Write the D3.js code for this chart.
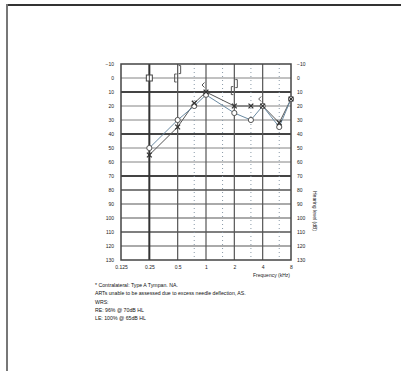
<!DOCTYPE html>
<html>
<head>
<meta charset="utf-8">
<script src="https://cdn.jsdelivr.net/npm/d3@7"></script>
<style>
  html, body { margin: 0; padding: 0; background: #fff; }
  svg { display: block; font-family: "Liberation Sans", Arial, sans-serif; }
</style>
</head>
<body>
<svg id="chart" width="401" height="371"></svg>
<script>
// Audiogram values (dB HL) by frequency (kHz)
const freqTicks = [0.125, 0.25, 0.5, 1, 2, 4, 8];
const freqTickLabels = ["0.125", "0.25", "0.5", "1", "2", "4", "8"];
const interOctave = [0.75, 1.5, 3, 6];
const levelTicks = [-10, 0, 10, 20, 30, 40, 50, 60, 70, 80, 90, 100, 110, 120, 130];

const airFreqs = [0.25, 0.5, 0.75, 1, 2, 3, 4, 6, 8];
const rightAir = [50, 30, 20, 12, 25, 30, 20, 35, 15];
const leftAir  = [55, 35, 18, 10, 20, 20, 20, 32, 15];

// Bone conduction symbols
const boneFreqs   = [0.5, 0.5, 1, 2, 2, 4];
const boneLevels  = [0, -6, 5, 4, 9, 15];
const boneSymbols = ["[", "]", "<", "]", "[", "<"];

// Sound-field / square marker
const squareFreqs  = [0.25];
const squareLevels = [0];

const notes = [
  "* Contralateral: Type A Tympan. NA.",
  "ARTs unable to be assessed due to excess needle deflection, AS.",
  "WRS:",
  "RE: 96% @ 70dB HL",
  "LE: 100% @ 65dB HL"
];

const svg = d3.select("#chart");

// Page frame
svg.append("line").attr("x1", 7).attr("x2", 401).attr("y1", 5).attr("y2", 5)
  .attr("stroke", "#333").attr("stroke-width", 2);
svg.append("line").attr("x1", 7).attr("x2", 7).attr("y1", 4).attr("y2", 371)
  .attr("stroke", "#777").attr("stroke-width", 2);

const x = d3.scaleLog().base(2).domain([0.125, 8]).range([121, 291]);
const y = d3.scaleLinear().domain([-10, 130]).range([64, 260]);

const grid = svg.append("g");

// Horizontal grid lines with varying weights
function hStyle(v) {
  if (v === 10 || v === 40 || v === 70) return { c: "#444", w: 2 };
  if (v === 80 || v === 110) return { c: "#555", w: 1.5 };
  if (v === 90 || v === 100 || v === 120) return { c: "#aaa", w: 2.2 };
  return { c: "#777", w: 0.9 };
}
grid.selectAll("line.h").data(levelTicks.filter(v => v > -10 && v < 130)).join("line")
  .attr("class", "h")
  .attr("x1", x(0.125)).attr("x2", x(8))
  .attr("y1", d => y(d)).attr("y2", d => y(d))
  .attr("stroke", d => hStyle(d).c).attr("stroke-width", d => hStyle(d).w);

// Dotted inter-octave lines
grid.selectAll("line.io").data(interOctave).join("line")
  .attr("class", "io")
  .attr("x1", d => x(d)).attr("x2", d => x(d))
  .attr("y1", y(-10)).attr("y2", y(130))
  .attr("stroke", "#8a9aa8").attr("stroke-width", 1)
  .attr("stroke-dasharray", "1,3");

// Octave lines
grid.selectAll("line.v").data(freqTicks.filter(f => f > 0.125 && f < 8)).join("line")
  .attr("class", "v")
  .attr("x1", d => x(d)).attr("x2", d => x(d))
  .attr("y1", y(-10)).attr("y2", y(130))
  .attr("stroke", d => d === 0.25 ? "#333" : "#555")
  .attr("stroke-width", d => d === 0.25 ? 2 : 1.2);

// Plot border
grid.append("rect")
  .attr("x", x(0.125)).attr("y", y(-10))
  .attr("width", x(8) - x(0.125)).attr("height", y(130) - y(-10))
  .attr("fill", "none").attr("stroke", "#444").attr("stroke-width", 1.5);

// Axes
const fs = 5;
const leftAxis = svg.append("g").attr("transform", `translate(${x(0.125) - 7},0)`)
  .call(d3.axisLeft(y).tickValues(levelTicks).tickSize(0).tickPadding(0));
const rightAxis = svg.append("g").attr("transform", `translate(${x(8) + 6},0)`)
  .call(d3.axisRight(y).tickValues(levelTicks).tickSize(0).tickPadding(0));
const bottomAxis = svg.append("g").attr("transform", `translate(0,${y(130) + 5})`)
  .call(d3.axisBottom(x).tickValues(freqTicks).tickSize(0).tickPadding(0)
    .tickFormat((d, i) => freqTickLabels[i]));
[leftAxis, rightAxis, bottomAxis].forEach(g => {
  g.select(".domain").remove();
  g.selectAll("text").attr("font-size", fs).attr("fill", "#222")
    .attr("font-family", "Liberation Sans, Arial, sans-serif");
});

svg.append("text")
  .attr("x", x(8) - 1).attr("y", y(130) + 17)
  .attr("text-anchor", "end").attr("font-size", fs).attr("fill", "#222")
  .text("Frequency (kHz)");

svg.append("text")
  .attr("transform", `translate(313,${y(95)}) rotate(90)`)
  .attr("text-anchor", "middle").attr("font-size", fs).attr("fill", "#222")
  .text("Hearing level (dB)");

// Air conduction lines
const line = d3.line().x(d => x(d[0])).y(d => y(d[1]));
const rightPts = airFreqs.map((f, i) => [f, rightAir[i]]);
const leftPts = airFreqs.map((f, i) => [f, leftAir[i]]);

svg.append("path").datum(leftPts).attr("d", line)
  .attr("fill", "none").attr("stroke", "#555").attr("stroke-width", 1);
svg.append("path").datum(rightPts).attr("d", line)
  .attr("fill", "none").attr("stroke", "#6a8aa2").attr("stroke-width", 1);

// Right ear: circles
svg.selectAll("circle.r").data(rightPts).join("circle")
  .attr("class", "r")
  .attr("cx", d => x(d[0])).attr("cy", d => y(d[1])).attr("r", 2.6)
  .attr("fill", "#fff").attr("stroke", "#555").attr("stroke-width", 1);

// Left ear: crosses
const s = 2.4;
svg.selectAll("path.l").data(leftPts).join("path")
  .attr("class", "l")
  .attr("d", d => {
    const cx = x(d[0]), cy = y(d[1]);
    return `M${cx - s},${cy - s}L${cx + s},${cy + s}M${cx - s},${cy + s}L${cx + s},${cy - s}`;
  })
  .attr("stroke", "#333").attr("stroke-width", 1.3);

// Bone conduction symbols drawn as paths
function boneShape(f, v, sym) {
  const cx = x(f), cy = y(v);
  const h = 4, w = 2;
  if (sym === "[") {
    const bx = cx - 3;
    return `M${bx + w},${cy - h}L${bx},${cy - h}L${bx},${cy + h}L${bx + w},${cy + h}`;
  }
  if (sym === "]") {
    const bx = cx + 3;
    return `M${bx - w},${cy - h}L${bx},${cy - h}L${bx},${cy + h}L${bx - w},${cy + h}`;
  }
  // "<"
  const bx = cx - 4;
  return `M${bx + 2.5},${cy - 2.5}L${bx},${cy}L${bx + 2.5},${cy + 2.5}`;
}
svg.selectAll("path.bone").data(boneFreqs.map((f, i) => [f, boneLevels[i], boneSymbols[i]])).join("path")
  .attr("class", "bone")
  .attr("d", d => boneShape(d[0], d[1], d[2]))
  .attr("fill", "none").attr("stroke", "#555").attr("stroke-width", 1);

// Square markers
const sq = 3;
const sqG = svg.selectAll("g.sq").data(squareFreqs.map((f, i) => [f, squareLevels[i]])).join("g")
  .attr("class", "sq");
sqG.append("rect")
  .attr("x", d => x(d[0]) - sq).attr("y", d => y(d[1]) - sq)
  .attr("width", 2 * sq).attr("height", 2 * sq)
  .attr("fill", "#fff").attr("stroke", "#444").attr("stroke-width", 1);
sqG.append("line")
  .attr("x1", d => x(d[0])).attr("x2", d => x(d[0]))
  .attr("y1", d => y(d[1]) - sq).attr("y2", d => y(d[1]) + sq)
  .attr("stroke", "#444").attr("stroke-width", 1);

// Notes
svg.selectAll("text.note").data(notes).join("text")
  .attr("class", "note")
  .attr("x", 95).attr("y", (d, i) => 287 + i * 8.3)
  .attr("font-size", 5.2).attr("fill", "#111")
  .text(d => d);
</script>
</body>
</html>
